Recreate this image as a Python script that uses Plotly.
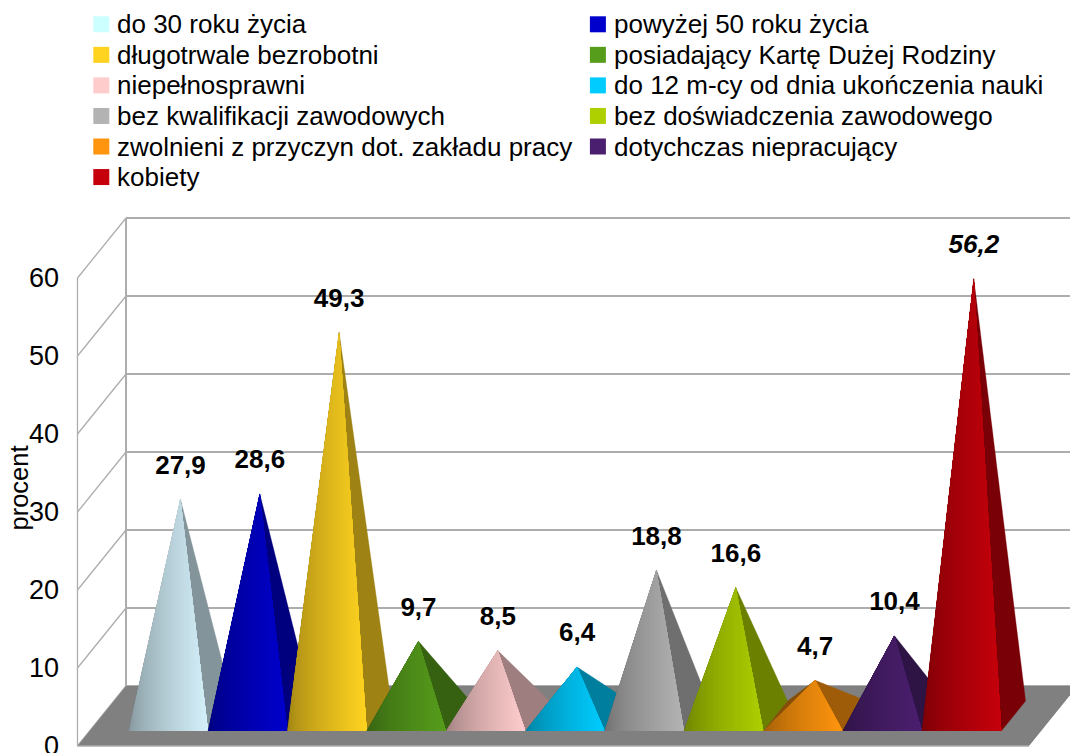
import plotly.graph_objects as go

categories = ["do 30 roku życia", "powyżej 50 roku życia", "długotrwale bezrobotni",
              "posiadający Kartę Dużej Rodziny", "niepełnosprawni",
              "do 12 m-cy od dnia ukończenia nauki", "bez kwalifikacji zawodowych",
              "bez doświadczenia zawodowego", "zwolnieni z przyczyn dot. zakładu pracy",
              "dotychczas niepracujący", "kobiety"]
values = [27.9, 28.6, 49.3, 9.7, 8.5, 6.4, 18.8, 16.6, 4.7, 10.4, 56.2]
colors = ["#CCFFFF", "#0000CC", "#FFD320", "#579D1C", "#FFCCCC", "#00CCFF",
          "#B3B3B3", "#AECF00", "#FF950E", "#4B1F6F", "#C5000B"]
solid_colors = ["#D4F0FA"] + colors[1:]
value_ticks = [0, 10, 20, 30, 40, 50, 60]
axis_title = "procent"

W, H = 1070, 753
ML = 60                 # left margin of the plot area (px)
PX_X = 79.33            # px per category
PX_Y = 7.8              # px per percent
X0_PX = 128.7           # px of the first category's left edge
Y0_PX = 746             # px of value 0 on the front plane
DX = 48.5 / PX_X        # depth projection, in axis units
DY = 60 / PX_Y
D_FRONT, D_BACK = 0.25, 0.75
APEX_D = 0.485
XRANGE = [(ML - X0_PX) / PX_X, (W - X0_PX) / PX_X]
YRANGE = [(Y0_PX - H) / PX_Y, Y0_PX / PX_Y]
N_STRIPS = 36
GRID = "#ADADAD"
SIDE = 0.62


def to_x(px):
    return (px - X0_PX) / PX_X


def to_y(py):
    return (Y0_PX - py) / PX_Y


def shade(hex_color, f):
    r, g, b = (int(hex_color[k:k + 2], 16) for k in (1, 3, 5))
    return f"rgb({round(r * f)},{round(g * f)},{round(b * f)})"


fig = go.Figure()


def poly(xs, ys, color, line=0):
    fig.add_trace(go.Scatter(x=xs + xs[:1], y=ys + ys[:1], mode="lines", fill="toself",
                             fillcolor=color, line=dict(color=color, width=line),
                             hoverinfo="skip", showlegend=False))


def seg(xs, ys, width):
    fig.add_trace(go.Scatter(x=xs, y=ys, mode="lines", line=dict(color=GRID, width=width),
                             hoverinfo="skip", showlegend=False))


x_front_l, x_front_r = to_x(77.5), to_x(1029)

# walls
for v in value_ticks:
    seg([x_front_l, x_front_l + DX], [v, v + DY], 1.3)
    seg([x_front_l + DX, x_front_r + DX], [v + DY, v + DY], 2)
seg([x_front_l, x_front_l], [0, value_ticks[-1]], 1.3)
seg([x_front_l + DX, x_front_l + DX], [DY, value_ticks[-1] + DY], 2)

# floor
poly([x_front_l, x_front_r, x_front_r + DX, x_front_l + DX], [0, 0, DY, DY], "#808080")
seg([x_front_l, x_front_r], [0, 0], 1.5)

# pyramids
for i, (v, c) in enumerate(zip(values, solid_colors)):
    fl, fr = i, i + 1
    fy = D_FRONT * DY
    bl, br = fl + (D_BACK - D_FRONT) * DX, fr + (D_BACK - D_FRONT) * DX
    by = D_BACK * DY
    ax = i + 0.5 + (0.5 - D_FRONT) * DX
    ay = v + APEX_D * DY
    poly([ax, fl, bl], [ay, fy, by], shade(c, SIDE * 0.85), 0.3)
    poly([ax, fr, br], [ay, fy, by], shade(c, SIDE), 0.3)

    def top(x):
        if x <= ax:
            return fy + (ay - fy) * (x - fl) / (ax - fl)
        return fy + (ay - fy) * (fr - x) / (fr - ax)

    # painter's gradient: each step repaints the remainder of the front face
    for k in range(N_STRIPS):
        x0 = fl + k / N_STRIPS
        xs = [x0, fr]
        ys = [fy, fy]
        if x0 < ax:
            xs.append(ax)
            ys.append(ay)
        xs.append(x0)
        ys.append(top(x0))
        t = ((k + 0.5) / N_STRIPS) ** 0.7
        poly(xs, ys, shade(c, SIDE + (1 - SIDE) * t))

# data labels
LABEL_UP = 4.13
for i, v in enumerate(values):
    italic = categories[i] == "kobiety"
    fig.add_trace(go.Scatter(
        x=[i + 0.5 + (0.5 - D_FRONT) * DX], y=[v + APEX_D * DY + LABEL_UP],
        mode="text", text=[f"{v:.1f}".replace(".", ",")], textposition="middle center",
        textfont=dict(family="Liberation Sans", size=26, color="black", weight="bold",
                      style="italic" if italic else "normal"),
        hoverinfo="skip", showlegend=False))

# legend (two columns, row by row)
annotations = []
for j, (name, c) in enumerate(zip(categories, colors)):
    row, col = j // 2, j % 2
    py = 24.3 + row * 30.55
    px = 101.3 + col * 496.6
    fig.add_trace(go.Scatter(x=[to_x(px)], y=[to_y(py)], mode="markers", name=name,
                             marker=dict(symbol="square", size=16, color=c, line=dict(width=0)),
                             cliponaxis=False, hoverinfo="name", showlegend=False))
    annotations.append(dict(x=to_x(px + 14), y=to_y(py), xref="x", yref="y", text=name,
                            showarrow=False, xanchor="left", yanchor="middle",
                            font=dict(family="Liberation Sans", size=26, color="black")))

annotations.append(dict(x=(18 - ML) / (W - ML), y=1 - 488.5 / H, xref="paper", yref="paper",
                        text=axis_title, showarrow=False, textangle=-90, xanchor="center",
                        yanchor="middle",
                        font=dict(family="Liberation Sans", size=25.5, color="black")))

fig.update_layout(
    width=W, height=H, margin=dict(l=ML, r=0, t=0, b=0, autoexpand=False), plot_bgcolor="white",
    paper_bgcolor="white", showlegend=False, annotations=annotations,
    font=dict(family="Liberation Sans"),
    xaxis=dict(range=XRANGE, visible=False, fixedrange=True),
    yaxis=dict(range=YRANGE, tickvals=value_ticks, showgrid=False, zeroline=False, showline=False,
               ticks="", ticklabeloverflow="allow",
               tickfont=dict(family="Liberation Sans", size=27, color="black"),
               fixedrange=True),
)
fig.write_html("out.html", config=dict(displayModeBar=False),
               post_script="document.body.style.margin='0';")
